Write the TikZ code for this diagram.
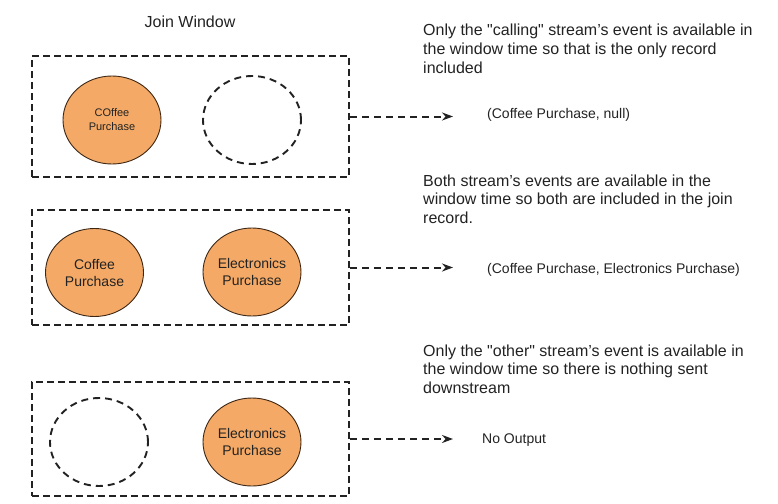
\documentclass[tikz,border=0pt]{standalone}
\usepackage{fontspec}
\setmainfont{Liberation Sans}
\usetikzlibrary{shapes.geometric,arrows.meta}
\definecolor{eventfill}{HTML}{F4AA66}
\definecolor{eventline}{HTML}{3D2614}
\definecolor{ink}{HTML}{222222}

\tikzset{
  window/.style = {draw=ink, line width=2.2pt, dash pattern=on 7pt off 4pt,
    minimum width=317pt, inner sep=0pt},
  event/.style = {ellipse, draw=eventline, line width=0.9pt, fill=eventfill,
    minimum width=98pt, minimum height=88pt, inner sep=0pt, align=center,
    text=ink, font=\fontsize{14}{17}\selectfont},
  missing/.style = {ellipse, draw=ink, line width=1.9pt,
    dash pattern=on 7pt off 5pt, minimum width=98pt, minimum height=88pt},
  flow/.style = {draw=ink, line width=2pt, dash pattern=on 7pt off 5pt,
    -{Stealth[length=11pt,width=8pt]}},
  note/.style = {anchor=base west, align=left, inner sep=0pt, text=ink,
    font=\fontsize{16}{18.5}\selectfont},
  result/.style = {anchor=base west, inner sep=0pt, text=ink,
    font=\fontsize{14}{17}\selectfont},
}

\begin{document}
\begin{tikzpicture}[x=1pt, y=-1pt]
    \useasboundingbox (0,0) rectangle (778,503);

    % Title
    \node[result, anchor=base, font=\fontsize{16}{18}\selectfont] (title) at (190,28) {Join Window};

    % Only the calling stream
    \node[window, minimum height=121pt] (win1) at (190.5,116.5) {};
    \node[event, font=\fontsize{11}{14}\selectfont] (coffee1) at (112,120) {COffee\\Purchase};
    \node[missing] (gap1) at (252,120) {};
    \coordinate (end1) at (453,116.5);
    \draw[flow] (win1.east) -- (end1);
    \node[result] (out1) at (487,118) {(Coffee Purchase, null)};
    \node[note] (note1) at (423,73) {Only the \textquotedbl calling\textquotedbl{} stream's event is available in\\
        the window time so that is the only record\\included};

    % Both streams
    \node[window, minimum height=115pt] (win2) at (190.5,267.5) {};
    \node[event] (coffee2) at (94.5,272.5) {Coffee\\Purchase};
    \node[event] (elec2) at (252,272) {Electronics\\Purchase};
    \coordinate (end2) at (453,267.5);
    \draw[flow] (win2.east) -- (end2);
    \node[result] (out2) at (487,273) {(Coffee Purchase, Electronics Purchase)};
    \node[note] (note2) at (423,223) {Both stream's events are available in the\\
        window time so both are included in the join\\record.};

    % Only the other stream
    \node[window, minimum height=114pt] (win3) at (190.5,439) {};
    \node[missing] (gap3) at (99,442) {};
    \node[event] (elec3) at (252,442) {Electronics\\Purchase};
    \coordinate (end3) at (453,439);
    \draw[flow] (win3.east) -- (end3);
    \node[result] (out3) at (482,443) {No Output};
    \node[note] (note3) at (423,393) {Only the \textquotedbl other\textquotedbl{} stream's event is available in\\
        the window time so there is nothing sent\\downstream};
\end{tikzpicture}
\end{document}
